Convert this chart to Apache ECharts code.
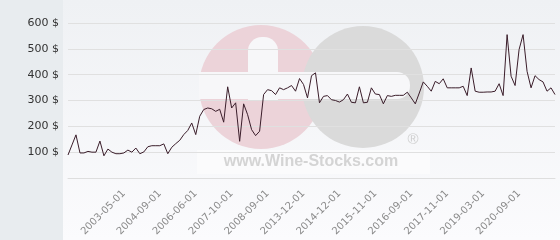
<!DOCTYPE html>
<html>
<head>
<meta charset="utf-8">
<script src="https://cdn.jsdelivr.net/npm/echarts@6/dist/echarts.min.js"></script>
<style>
html,body{margin:0;padding:0;background:#f5f6f8;}
#c{width:560px;height:240px;}
</style>
</head>
<body>
<div id="c"></div>
<script>
const dates = [
'2002-01-01','2002-02-01','2002-03-01','2002-04-01','2002-05-01','2002-06-01','2002-07-01','2002-09-01','2002-10-01','2002-11-01',
'2002-12-01','2003-01-01','2003-02-01','2003-04-01','2003-05-01','2003-06-01','2003-08-01','2003-10-01','2003-11-01','2004-01-01',
'2004-03-01','2004-05-01','2004-07-01','2004-09-01','2004-11-01','2005-01-01','2005-04-01','2005-06-01','2005-09-01','2005-11-01',
'2006-02-01','2006-04-01','2006-06-01','2006-08-01','2006-10-01','2006-12-01','2007-01-01','2007-03-01','2007-05-01','2007-07-01',
'2007-08-01','2007-10-01','2007-11-01','2007-12-01','2008-01-01','2008-02-01','2008-04-01','2008-05-01','2008-06-01','2008-08-01',
'2008-09-01','2009-06-01','2010-03-01','2010-12-01','2011-06-01','2012-01-01','2012-06-01','2012-11-01','2013-06-01','2013-12-01',
'2014-01-01','2014-03-01','2014-04-01','2014-05-01','2014-07-01','2014-08-01','2014-09-01','2014-11-01','2014-12-01','2015-01-01',
'2015-02-01','2015-04-01','2015-05-01','2015-06-01','2015-07-01','2015-09-01','2015-10-01','2015-11-01','2015-12-01','2016-01-01',
'2016-02-01','2016-03-01','2016-04-01','2016-05-01','2016-06-01','2016-07-01','2016-09-01','2016-10-01','2016-12-01','2017-01-01',
'2017-03-01','2017-05-01','2017-06-01','2017-08-01','2017-09-01','2017-11-01','2018-01-01','2018-03-01','2018-04-01','2018-06-01',
'2018-08-01','2018-10-01','2018-12-01','2019-01-01','2019-03-01','2019-05-01','2019-07-01','2019-09-01','2019-11-01','2020-01-01',
'2020-03-01','2020-05-01','2020-07-01','2020-09-01','2020-11-01','2021-01-01','2021-03-01','2021-05-01','2021-07-01','2021-09-01',
'2021-11-01','2022-01-01','2022-03-01'
];
const prices = [
89,128,167,97,97,103,100,100,143,86,
112,100,94,94,97,108,100,116,94,101,
121,125,125,125,132,94,119,133,146,168,
184,213,168,239,265,271,268,258,266,216,
353,271,291,142,287,245,187,164,181,323,
342,338,323,349,342,349,358,336,385,362,
310,396,407,291,316,319,303,300,294,303,
325,293,291,353,291,293,349,325,323,287,
319,316,320,320,320,332,310,287,329,372,
355,336,374,365,384,349,349,349,349,355,
319,426,336,332,332,333,333,336,365,319,
555,394,358,497,555,413,349,396,381,372,
336,349,323
];
const shownLabels = ['2003-05-01','2004-09-01','2006-06-01','2007-10-01','2008-09-01','2013-12-01',
'2014-12-01','2015-11-01','2016-09-01','2017-11-01','2019-03-01','2020-09-01'];
const yTicks = {min:0, max:600, step:100, unit:' $'};

const chart = echarts.init(document.getElementById('c'), null, {renderer:'canvas'});
const wmOp = 1;
chart.setOption({
  animation:false,
  backgroundColor:'transparent',
  grid:{left:68, right:5, top:23, bottom:62, containLabel:false, outerBoundsMode:'none'},
  graphic:[
    {type:'rect', z:-10, shape:{x:63,y:0,width:497,height:240},
     style:{fill:new echarts.graphic.LinearGradient(0,0,0,1,[{offset:0,color:'#eff1f4'},{offset:1,color:'#fbfbfd'}])}},
    {type:'rect', z:-10, shape:{x:0,y:0,width:63,height:240}, style:{fill:'#e8ecef'}},
    {type:'circle', z:-9, shape:{cx:261,cy:87,r:62}, style:{fill:'#ecd3d9', opacity:wmOp}},
    {type:'circle', z:-8, shape:{cx:363,cy:87,r:61}, style:{fill:'#dadada', opacity:wmOp}},
    {type:'rect', z:-7, shape:{x:248,y:37,width:30,height:63,r:[14,14,0,0]}, style:{fill:'#f7f7f9'}},
    {type:'rect', z:-7, shape:{x:199,y:72,width:101,height:27}, style:{fill:'#f7f7f9'}},
    {type:'rect', z:-7, shape:{x:286,y:72,width:124,height:27,r:13}, style:{fill:'#f7f7f9'}},
    {type:'rect', z:-7, shape:{x:197,y:150,width:233,height:24}, style:{fill:'#fbfbfc', opacity:0.8}},
    {type:'text', z:-6, style:{x:311,y:162,text:'www.Wine-Stocks.com', fill:'#d4d4d4',
      font:'bold 16px "Liberation Sans", Arial, sans-serif', align:'center', verticalAlign:'middle'}},
    {type:'text', z:-6, style:{x:413,y:140,text:'®', fill:'#cfcfcf',
      font:'15px "Liberation Sans", Arial, sans-serif', align:'center', verticalAlign:'middle'}}
  ],
  xAxis:{
    type:'category', data:dates, boundaryGap:false,
    axisLine:{show:true, lineStyle:{color:'#dedede', width:1}},
    axisTick:{show:false},
    splitLine:{show:false},
    axisLabel:{
      rotate:45, margin:14, color:'#8a8a8a', fontSize:10, fontFamily:'DejaVu Sans',
      interval:(i, v) => shownLabels.includes(v)
    }
  },
  yAxis:{
    type:'value', min:yTicks.min, max:yTicks.max, interval:yTicks.step,
    axisLine:{show:false}, axisTick:{show:false},
    splitLine:{lineStyle:{color:'#e0e0e0', width:1}},
    axisLabel:{color:'#333', fontSize:11, fontFamily:'DejaVu Sans', margin:9,
      formatter:v => v === 0 ? '' : v + yTicks.unit}
  },
  series:[{
    type:'line', data:prices, showSymbol:false, symbol:'none',
    lineStyle:{color:'#3a1d2a', width:1}, z:5
  }]
});
</script>
</body>
</html>
